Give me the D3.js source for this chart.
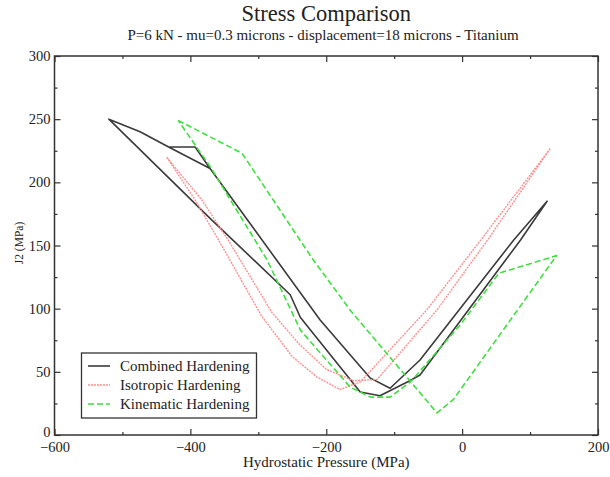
<!DOCTYPE html>
<html><head><meta charset="utf-8">
<script src="https://cdn.jsdelivr.net/npm/d3@7"></script>
<style>body{margin:0;background:#fff}</style></head>
<body>
<svg id="c" width="610" height="477"></svg>
<script>
// ---- data (Hydrostatic pressure P [MPa], J2 [MPa]) ----
const combinedP  = [-371,-393,-432,-474,-520,-371,-253,-238,-150,-121,-77,-62,86,125,76,-62,-106,-135,-209,-371,-432];
const combinedJ2 = [211,228,228,240,250,171.5,111,93,34,31,43,47.5,154.4,185,154.4,59.4,37,45,91,211,228];

const isotropicP  = [-435,-393,-356,-295,-250,-214,-180,-150,-52,27,130,37,-37,-125,-160,-200,-240,-280,-344,-383,-435];
const isotropicJ2 = [220,186,152,94,62,46,36,42,99,154,227,154,99,44,43,52,72,97,154,186,220];

const kinematicP  = [-418,-324,-219,-165,-37,-13,139,54,-3,-76,-106,-135,-165,-238,-287,-341,-369,-418];
const kinematicJ2 = [249,223,138.5,99,17.5,28,142,128,87,42,30,30,38,83,138.5,186,211,249];

const seriesNames = ["Combined Hardening","Isotropic Hardening","Kinematic Hardening"];
const xMajor = [-600,-400,-200,0,200];
const xMinor = [-500,-300,-100,100];
const yMajor = [0,50,100,150,200,250,300];
const yMinor = [25,75,125,175,225,275];
const titleText = "Stress Comparison";
const subtitleText = "P=6 kN - mu=0.3 microns - displacement=18 microns - Titanium";
const xTitle = "Hydrostatic Pressure (MPa)";
const yTitle = "J2 (MPa)";

// ---- layout ----
const L = 54.5, R = 598, T = 56, B = 435;
const x = d3.scaleLinear().domain([-600,200]).range([L,R]);
const y = d3.scaleLinear().domain([0,300]).range([B,T]);
const svg = d3.select("#c");
const serif = "'Liberation Serif','DejaVu Serif',serif";

const styles = [
  {stroke:"#3a3a3a", width:1.6, dash:null},
  {stroke:"#ff9090", width:1.4, dash:"2,1"},
  {stroke:"#3fe03f", width:1.6, dash:"6,3"}
];
const series = [
  d3.zip(combinedP, combinedJ2),
  d3.zip(isotropicP, isotropicJ2),
  d3.zip(kinematicP, kinematicJ2)
];

// axes (inward ticks on all sides)
function styleAxis(g){
  g.select(".domain").remove();
  g.selectAll("line").attr("stroke","#333").attr("stroke-width",1.2);
  g.selectAll("text").attr("font-family",serif).attr("font-size",14.5).attr("fill","#222");
}
svg.append("g").attr("transform",`translate(0,${B})`)
  .call(d3.axisBottom(x).tickValues(xMajor).tickSizeInner(-6).tickSizeOuter(0).tickPadding(7).tickFormat(d3.format("d")))
  .call(styleAxis);
svg.append("g").attr("transform",`translate(0,${B})`)
  .call(d3.axisBottom(x).tickValues(xMinor).tickSizeInner(-3).tickSizeOuter(0).tickFormat(""))
  .call(styleAxis);
svg.append("g").attr("transform",`translate(0,${T})`)
  .call(d3.axisTop(x).tickValues(xMajor).tickSizeInner(-6).tickSizeOuter(0).tickFormat(""))
  .call(styleAxis);
svg.append("g").attr("transform",`translate(0,${T})`)
  .call(d3.axisTop(x).tickValues(xMinor).tickSizeInner(-3).tickSizeOuter(0).tickFormat(""))
  .call(styleAxis);
const yAx = svg.append("g").attr("transform",`translate(${L},0)`)
  .call(d3.axisLeft(y).tickValues(yMajor).tickSizeInner(-6).tickSizeOuter(0).tickPadding(4).tickFormat(d3.format("d")))
  .call(styleAxis);
yAx.selectAll("text").filter(d=>d===0).attr("dy","0.1em");
svg.append("g").attr("transform",`translate(${L},0)`)
  .call(d3.axisLeft(y).tickValues(yMinor).tickSizeInner(-3).tickSizeOuter(0).tickFormat(""))
  .call(styleAxis);
svg.append("g").attr("transform",`translate(${R},0)`)
  .call(d3.axisRight(y).tickValues(yMajor).tickSizeInner(-6).tickSizeOuter(0).tickFormat(""))
  .call(styleAxis);
svg.append("g").attr("transform",`translate(${R},0)`)
  .call(d3.axisRight(y).tickValues(yMinor).tickSizeInner(-3).tickSizeOuter(0).tickFormat(""))
  .call(styleAxis);

// frame
svg.append("rect").attr("x",L).attr("y",T).attr("width",R-L).attr("height",B-T)
  .attr("fill","none").attr("stroke","#333").attr("stroke-width",1.5);

// lines
const line = d3.line().x(d=>x(d[0])).y(d=>y(d[1]));
series.forEach((s,i)=>{
  svg.append("path").datum(s).attr("d",line).attr("fill","none")
    .attr("stroke",styles[i].stroke).attr("stroke-width",styles[i].width)
    .attr("stroke-dasharray",styles[i].dash).attr("stroke-linejoin","round");
});

// titles
svg.append("text").attr("x",(L+R)/2).attr("y",21).attr("text-anchor","middle")
  .attr("font-family",serif).attr("font-size",22.5).attr("fill","#222").text(titleText);
svg.append("text").attr("x",323).attr("y",40).attr("text-anchor","middle")
  .attr("font-family",serif).attr("font-size",15).attr("fill","#222").text(subtitleText);
svg.append("text").attr("x",(L+R)/2).attr("y",467).attr("text-anchor","middle")
  .attr("font-family",serif).attr("font-size",15).attr("fill","#222").text(xTitle);
svg.append("text").attr("transform","translate(23,243) rotate(-90)").attr("text-anchor","middle")
  .attr("font-family",serif).attr("font-size",11.5).attr("fill","#222").text(yTitle);

// legend
const lg = svg.append("g");
lg.append("rect").attr("x",81.5).attr("y",353).attr("width",175).attr("height",65)
  .attr("fill","#fff").attr("stroke","#333").attr("stroke-width",1.3);
seriesNames.forEach((n,i)=>{
  const yy = 366 + i*19;
  lg.append("line").attr("x1",88).attr("x2",110).attr("y1",yy).attr("y2",yy)
    .attr("stroke",styles[i].stroke).attr("stroke-width",styles[i].width).attr("stroke-dasharray",styles[i].dash);
  lg.append("text").attr("x",120).attr("y",yy+5).attr("font-family",serif).attr("font-size",15)
    .attr("fill","#222").text(n);
});
</script>
</body></html>
